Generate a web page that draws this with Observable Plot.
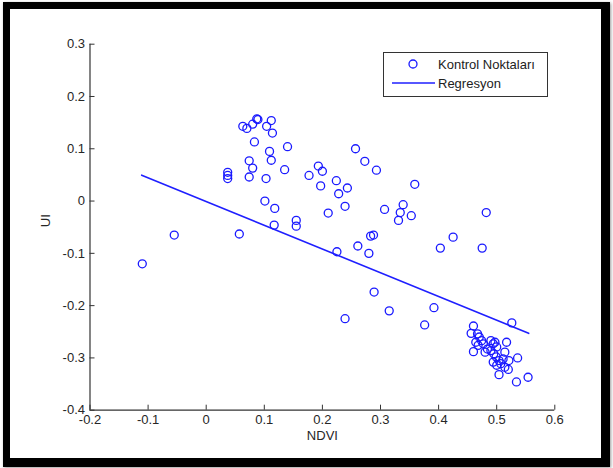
<!DOCTYPE html>
<html>
<head>
<meta charset="utf-8">
<script src="https://cdn.jsdelivr.net/npm/d3@7"></script>
<script src="https://cdn.jsdelivr.net/npm/@observablehq/plot@0.6"></script>
<style>
  html, body { margin: 0; padding: 0; background: #fff; }
  #wrap { position: relative; width: 613px; height: 468px; overflow: hidden; font-family: "Liberation Sans", Arial, sans-serif; }
  #frame { position: absolute; left: 3px; top: 2px; width: 607px; height: 465px; box-sizing: border-box;
           border-style: solid; border-color: #000; border-width: 7px 9px 9px 7px; box-shadow: 1px 1px 3px #999; pointer-events: none; }
  #chart { position: absolute; left: 0; top: 0; }
  #legend { position: absolute; left: 383px; top: 52px; width: 165px; height: 45px; box-sizing: border-box;
            border: 1.5px solid #333; background: #fff; font-size: 13px; color: #222; }
</style>
</head>
<body>
<div id="wrap">
  <div id="chart"></div>
  <div id="legend">
    <svg width="162" height="42" style="position:absolute;left:0;top:0">
      <circle cx="29" cy="11" r="4" fill="none" stroke="#1a1aff" stroke-width="1.3"></circle>
      <line x1="8" y1="30" x2="51" y2="30" stroke="#1f1fff" stroke-width="1.6"></line>
      <text x="54" y="15.5" font-size="13" fill="#222">Kontrol Noktaları</text>
      <text x="54" y="34.5" font-size="13" fill="#222">Regresyon</text>
    </svg>
  </div>
  <div id="frame"></div>
</div>
<script>
// Control points (NDVI vs UI)
const ndvi = [
  -0.110, -0.055, 0.037, 0.037, 0.037, 0.057, 0.063, 0.070, 0.080, 0.087,
   0.089,  0.083, 0.074, 0.080, 0.074, 0.112, 0.104, 0.114, 0.109, 0.112,
   0.103,  0.101, 0.118, 0.117, 0.140, 0.135, 0.155, 0.155, 0.177, 0.193,
   0.200,  0.197, 0.210, 0.224, 0.228, 0.243, 0.239, 0.225, 0.239, 0.257,
   0.273,  0.293, 0.261, 0.280, 0.283, 0.288, 0.289, 0.307, 0.315, 0.339,
   0.334,  0.331, 0.353, 0.359, 0.376, 0.392, 0.403, 0.425, 0.475, 0.482,
   0.526,
   0.460, 0.456, 0.460, 0.467, 0.470, 0.464, 0.474, 0.477, 0.468, 0.484,
   0.480, 0.490, 0.494, 0.497, 0.500, 0.490, 0.495, 0.499, 0.494, 0.504,
   0.500, 0.511, 0.507, 0.514, 0.514, 0.517, 0.521, 0.520, 0.536, 0.504,
   0.534, 0.554
];
const ui = [
  -0.120, -0.065, 0.055, 0.049, 0.043, -0.063, 0.143, 0.139, 0.147, 0.157,
   0.156,  0.113, 0.077, 0.063, 0.046, 0.154, 0.143, 0.130, 0.095, 0.078,
   0.043,  0.000, -0.014, -0.046, 0.104, 0.060, -0.037, -0.048, 0.049, 0.067,
   0.057,  0.029, -0.023, 0.039, 0.014, 0.025, -0.010, -0.097, -0.225, 0.100,
   0.076,  0.059, -0.086, -0.100, -0.067, -0.065, -0.174, -0.016, -0.210, -0.007,
  -0.022, -0.037, -0.028, 0.032, -0.237, -0.204, -0.090, -0.069, -0.090, -0.022,
  -0.233,
  -0.239, -0.253, -0.288, -0.254, -0.260, -0.270, -0.267, -0.273, -0.276, -0.283,
  -0.289, -0.267, -0.273, -0.270, -0.279, -0.286, -0.292, -0.298, -0.308, -0.305,
  -0.314, -0.302, -0.311, -0.318, -0.289, -0.270, -0.305, -0.322, -0.300, -0.332,
  -0.346, -0.337
];
// Regression line end points
const regX = [-0.111, 0.555];
const regY = [0.0495, -0.253];
// Axis ticks
const xTicks = [-0.2, -0.1, 0, 0.1, 0.2, 0.3, 0.4, 0.5, 0.6];
const yTicks = [-0.4, -0.3, -0.2, -0.1, 0, 0.1, 0.2, 0.3];
const xLabel = "NDVI";
const yLabel = "UI";

const points = ndvi.map((x, i) => ({x, y: ui[i]}));
const reg = regX.map((x, i) => ({x, y: regY[i]}));

const axisColor = "#333";
const textColor = "#262626";

const chart = Plot.plot({
  width: 613,
  height: 468,
  marginLeft: 89.5,
  marginRight: 58.7,
  marginTop: 43.7,
  marginBottom: 58.3,
  style: {fontFamily: "'Liberation Sans', Arial, sans-serif", fontSize: "13px", background: "transparent", color: textColor, overflow: "visible"},
  x: {domain: [-0.2, 0.6], axis: null},
  y: {domain: [-0.4, 0.3], axis: null},
  marks: [
    Plot.axisX({ticks: xTicks, tickSize: 0, tickPadding: 5, tickFormat: d => String(d), label: null, fill: textColor, fontSize: 13}),
    Plot.axisY({ticks: yTicks, tickSize: 0, tickPadding: 5, tickFormat: d => String(d), label: null, fill: textColor, fontSize: 13}),
    Plot.ruleX(xTicks, {x: d => d, y1: -0.4, y2: -0.4, insetTop: -5, stroke: axisColor, strokeWidth: 1}),
    Plot.ruleY(yTicks, {y: d => d, x1: -0.2, x2: -0.2, insetRight: -5, stroke: axisColor, strokeWidth: 1}),
    Plot.ruleY([-0.4], {stroke: axisColor, strokeWidth: 1.2}),
    Plot.ruleX([-0.2], {stroke: axisColor, strokeWidth: 1.2}),
    Plot.line(reg, {x: "x", y: "y", stroke: "#1f1fff", strokeWidth: 1.6}),
    Plot.dot(points, {x: "x", y: "y", r: 4, stroke: "#1a1aff", strokeWidth: 1.3, fill: "none"}),
    Plot.text([xLabel], {text: d => d, frameAnchor: "bottom", dy: 30, fill: textColor, fontSize: 13}),
    Plot.text([yLabel], {text: d => d, frameAnchor: "left", dx: -44, rotate: -90, fill: textColor, fontSize: 13})
  ]
});
document.getElementById("chart").appendChild(chart);
</script>
</body>
</html>
